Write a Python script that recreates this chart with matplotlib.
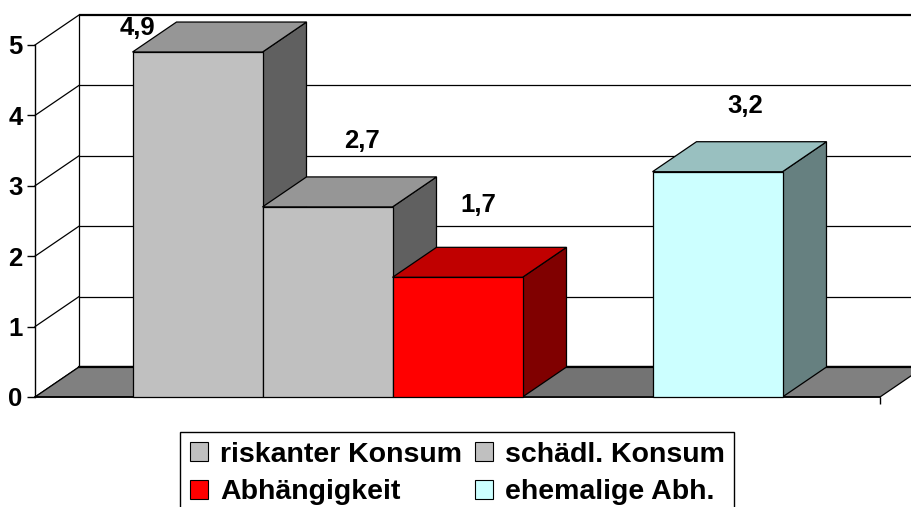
import matplotlib
matplotlib.use("Agg")
import matplotlib.pyplot as plt
from matplotlib.patches import Polygon, Patch

# ---- data ----
series = ["riskanter Konsum", "schädl. Konsum", "Abhängigkeit", "ehemalige Abh."]
values = [4.9, 2.7, 1.7, 3.2]
slots = [0, 1, 2, 4]          # slot index of each bar (slot 3 is empty)
yticks = [0, 1, 2, 3, 4, 5]

# ---- styles ----
front_colors = ["#C0C0C0", "#C0C0C0", "#FF0000", "#CCFFFF"]
top_colors = ["#969696", "#969696", "#C00000", "#99C0C0"]
side_colors = ["#606060", "#606060", "#800000", "#668080"]
# label offsets relative to (bar centre, bar value)
label_dx = [-0.465, 0.269, 0.158, 0.215]
label_dy = [0.242, 0.837, 0.928, 0.834]

plt.rcParams['font.family'] = ['Liberation Sans', 'DejaVu Sans']
plt.rcParams['font.weight'] = 'bold'

W, H = 912, 507
fig = plt.figure(figsize=(W / 100, H / 100), dpi=100)
ax = fig.add_axes([35 / W, 110 / H, 845 / W, 352 / H])
x0, x1 = -0.75, 5.75
ymax = 5
ax.set_xlim(x0, x1)
ax.set_ylim(0, ymax)
ax.patch.set_visible(False)
dx, dy = 44 / 130, 30 / 70.4   # depth offset in data units
lw = 0.9

# back wall
ax.add_patch(Polygon([(x0 + dx, dy), (x1 + dx, dy), (x1 + dx, ymax + dy), (x0 + dx, ymax + dy)],
                     closed=True, facecolor='white', edgecolor='none', clip_on=False, zorder=0))
for t in yticks:
    ax.plot([x0 + dx, x1 + dx], [t + dy, t + dy], color='black',
            lw=1.6 if t in (0, ymax) else lw, clip_on=False, zorder=1, solid_capstyle='butt')
    ax.plot([x0, x0 + dx], [t, t + dy], color='black', lw=lw, clip_on=False, zorder=1)
ax.plot([x0 + dx, x0 + dx], [dy, ymax + dy], color='black', lw=lw, clip_on=False, zorder=1)

# floor
ax.add_patch(Polygon([(x0, 0), (x1, 0), (x1 + dx, dy), (x0 + dx, dy)], closed=True,
                     facecolor='#808080', edgecolor='black', lw=lw, clip_on=False, zorder=2))
for s in range(int(x1)):
    if s not in slots:
        ax.add_patch(Polygon([(s, 0), (s + 1, 0), (s + 1 + dx, dy), (s + dx, dy)], closed=True,
                             facecolor='#737373', edgecolor='none', clip_on=False, zorder=2.1))
ax.plot([x0 + dx, x1 + dx], [dy, dy], color='black', lw=1.6, clip_on=False, zorder=2.2)

# bars
for i, (s, v) in enumerate(zip(slots, values)):
    z = 3 + i
    side = [(s + 1, 0), (s + 1 + dx, dy), (s + 1 + dx, v + dy), (s + 1, v)]
    top = [(s, v), (s + 1, v), (s + 1 + dx, v + dy), (s + dx, v + dy)]
    front = [(s, 0), (s + 1, 0), (s + 1, v), (s, v)]
    for pts, c in ((side, side_colors[i]), (top, top_colors[i]), (front, front_colors[i])):
        ax.add_patch(Polygon(pts, closed=True, facecolor=c, edgecolor='black', lw=lw,
                             clip_on=False, zorder=z, joinstyle='miter'))
    ax.text(s + 0.5 + label_dx[i], v + label_dy[i], f"{v:.1f}".replace('.', ','),
            ha='center', va='baseline', fontsize=18.5, fontweight='bold', zorder=10)

# axes
for side_name in ('top', 'right'):
    ax.spines[side_name].set_visible(False)
ax.spines['left'].set_linewidth(1.0)
ax.spines['bottom'].set_linewidth(1.2)
ax.set_yticks(yticks)
ax.set_yticklabels([str(t) for t in yticks], fontsize=18.5, fontweight='bold')
ax.set_xticks([x1])
ax.set_xticklabels([''])
ax.tick_params(axis='y', direction='out', length=6, width=1.0, pad=3)
ax.tick_params(axis='x', direction='out', length=5, width=1.0)

# legend (column-wise fill -> reorder so rows read as in reference)
order = [0, 2, 1, 3]
handles = [Patch(facecolor=front_colors[k], edgecolor='black', lw=0.8) for k in order]
labels = [series[k] for k in order]
leg = fig.legend(handles, labels, ncol=2, loc='upper left',
                 bbox_to_anchor=(180 / W, 1 - 432 / H), bbox_transform=fig.transFigure,
                 frameon=True, fancybox=False, framealpha=1, edgecolor='black',
                 prop={'family': ['Liberation Sans', 'DejaVu Sans'], 'weight': 'bold', 'size': 20.5},
                 handlelength=0.65, handleheight=0.65, handletextpad=0.4, columnspacing=0.45,
                 borderpad=0.35, labelspacing=0.4, borderaxespad=0)
leg.get_frame().set_linewidth(1.0)

fig.savefig("out.png", dpi=100)
